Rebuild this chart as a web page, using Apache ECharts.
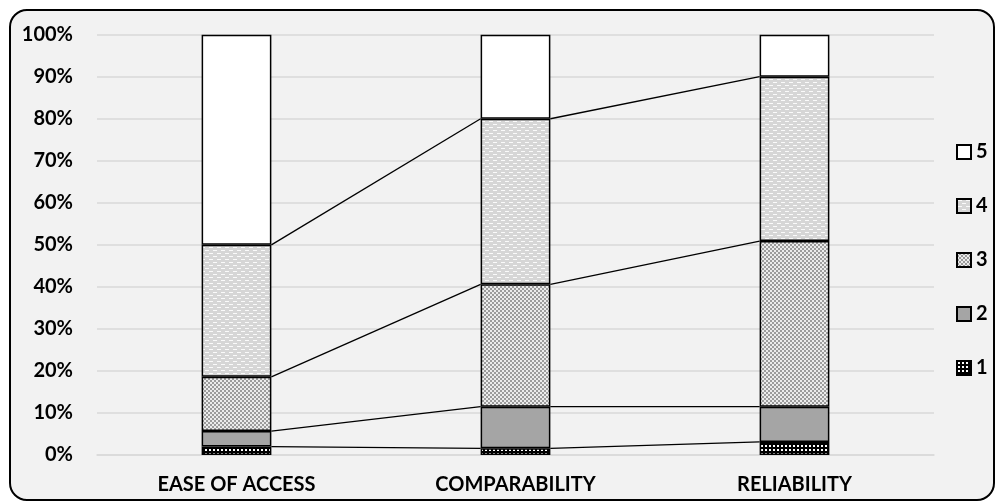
<!DOCTYPE html>
<html><head><meta charset="utf-8">
<script src="https://cdn.jsdelivr.net/npm/echarts@6/dist/echarts.min.js"></script>
<style>
html,body{margin:0;padding:0;background:#fff;}
#frame{position:absolute;left:9px;top:9px;width:982px;height:488px;border:2px solid #000;border-radius:18px;background:#f2f2f2;}
#chart{position:absolute;left:0;top:0;width:996px;height:504px;}
</style></head>
<body>
<div id="frame"></div>
<div id="chart"></div>
<script>
const categories = ['EASE OF ACCESS', 'COMPARABILITY', 'RELIABILITY'];
const seriesNames = ['1', '2', '3', '4', '5'];
const s1 = [2.0, 1.6, 3.1];
const s2 = [3.7, 9.9, 8.4];
const s3 = [12.9, 29.1, 39.4];
const s4 = [31.4, 39.4, 39.1];
const s5 = [50.0, 20.0, 10.0];
const yTicks = [0, 10, 20, 30, 40, 50, 60, 70, 80, 90, 100];

function makePattern(w, h, draw) {
  const c = document.createElement('canvas');
  c.width = w; c.height = h;
  const g = c.getContext('2d');
  draw(g);
  return { image: c, repeat: 'repeat' };
}
const pat1 = makePattern(4, 4, g => { g.fillStyle = '#000'; g.fillRect(0,0,4,4); g.fillStyle = '#fff'; g.fillRect(1,1,2,2); });
const pat2 = '#a5a5a5';
const pat3 = makePattern(4, 4, g => { g.fillStyle = '#9c9c9c'; g.fillRect(0,0,4,4); g.fillStyle = '#ececec'; g.fillRect(0,0,2,2); g.fillRect(2,2,2,2); });
const pat4 = makePattern(8, 6, g => { g.fillStyle = '#d6d6d6'; g.fillRect(0,0,8,6); g.fillStyle = '#fafafa'; g.fillRect(1,1,4,1); g.fillRect(5,4,3,1); g.fillRect(0,4,1,1); });
const pat5 = '#ffffff';
const fills = [pat1, pat2, pat3, pat4, pat5];
const values = [s1, s2, s3, s4, s5];

// cumulative tops for series lines
const cum = [];
let run = categories.map(() => 0);
for (let k = 0; k < 4; k++) {
  run = run.map((v, i) => v + values[k][i]);
  cum.push(run.slice());
}
const lineData = [];
cum.forEach(c => { for (let i = 0; i < categories.length - 1; i++) lineData.push([i, c[i], c[i+1]]); });

const FONT = 'Lato';
const chart = echarts.init(document.getElementById('chart'), null, { renderer: 'canvas' });
const barSeries = seriesNames.map((n, k) => ({
  name: n, type: 'bar', stack: 'total', barWidth: '25%', data: values[k],
  itemStyle: { color: fills[k], borderColor: '#000', borderWidth: 1.5 },
  emphasis: { disabled: true }, animation: false
}));
chart.setOption({
  backgroundColor: 'transparent',
  animation: false,
  grid: { left: 97, right: 62, top: 34.7, bottom: 49 },
  legend: {
    orient: 'vertical', left: 951, top: 137, itemWidth: 14, itemHeight: 14, itemGap: 34,
    data: ['5', '4', '3', '2', '1'],
    textStyle: { fontFamily: FONT, fontWeight: 'bold', fontSize: 20, color: '#000', lineHeight: 20 },
    icon: 'rect'
  },
  xAxis: [{
    type: 'category', data: categories,
    axisLine: { lineStyle: { color: '#d9d9d9', width: 1.5 } },
    axisTick: { alignWithLabel: false, length: 6, lineStyle: { color: '#d9d9d9', width: 1.5 } },
    axisLabel: { fontFamily: FONT, fontWeight: 'bold', fontSize: 20, color: '#000', margin: 20 }
  }, {
    type: 'category', data: categories, position: 'bottom',
    axisLine: { show: false },
    axisTick: { alignWithLabel: true, length: 5, lineStyle: { color: '#d9d9d9', width: 1.5 } },
    axisLabel: { show: false }
  }],
  yAxis: {
    type: 'value', min: yTicks[0], max: yTicks[yTicks.length-1], interval: 10,
    axisLine: { show: false }, axisTick: { show: false },
    splitLine: { lineStyle: { color: '#d9d9d9', width: 1.5 } },
    axisLabel: { formatter: '{value}%', fontFamily: FONT, fontWeight: 'bold', fontSize: 20, color: '#000', margin: 24 }
  },
  series: barSeries.concat([{
    type: 'custom', name: 'serieslines', silent: true, z: 3,
    data: lineData, encode: { x: 0, y: 1 },
    renderItem: function (params, api) {
      const i = api.value(0);
      const p0 = api.coord([i, api.value(1)]);
      const p1 = api.coord([i + 1, api.value(2)]);
      const half = api.size([1, 0])[0] * 0.25 / 2;
      return { type: 'line', shape: { x1: p0[0] + half, y1: p0[1], x2: p1[0] - half, y2: p1[1] },
               style: { stroke: '#000', lineWidth: 1.3 } };
    }
  }])
});
</script>
</body></html>
